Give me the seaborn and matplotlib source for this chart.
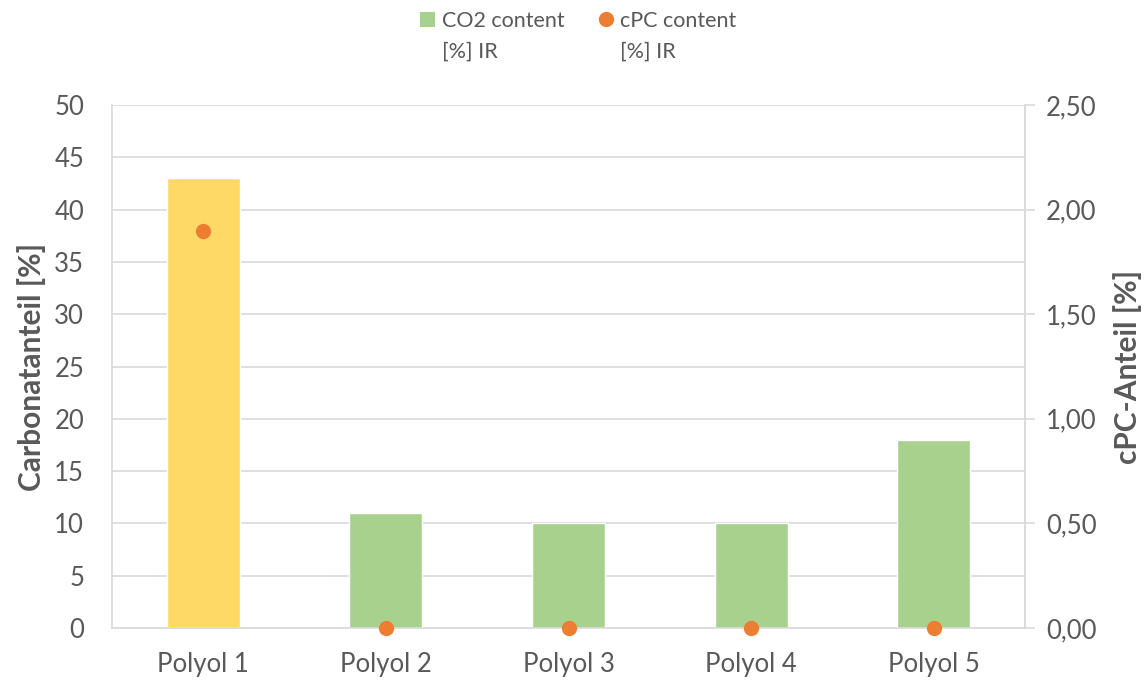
import matplotlib
matplotlib.use("Agg")
import matplotlib.pyplot as plt
from matplotlib.lines import Line2D
from matplotlib.patches import Patch
import seaborn as sns
import pandas as pd

# Data
categories = ["Polyol 1", "Polyol 2", "Polyol 3", "Polyol 4", "Polyol 5"]
co2_content = [43, 11, 10, 10, 18]          # Carbonatanteil [%]
cpc_content = [1.90, 0.0, 0.0, 0.0, 0.0]    # cPC-Anteil [%]
bar_colors = ["#FFD966", "#A9D18E", "#A9D18E", "#A9D18E", "#A9D18E"]
left_ticks = [0, 5, 10, 15, 20, 25, 30, 35, 40, 45, 50]
right_ticks = [0.0, 0.5, 1.0, 1.5, 2.0, 2.5]
legend_first = ["CO2 content", "cPC content"]
legend_second = ["[%] IR", "[%] IR"]

sns.set_theme(style="white")
plt.rcParams["font.family"] = ["Lato", "DejaVu Sans"]

text_col = "#595959"
grid_col = "#D9D9D9"
dot_col = "#ED7D31"

df = pd.DataFrame({"cat": categories, "co2": co2_content, "cpc": cpc_content})

fig = plt.figure(figsize=(11.45, 6.8), dpi=100)
ax = fig.add_axes([112 / 1145, 1 - 628 / 680, (1025 - 112) / 1145, (628 - 105) / 680])

sns.barplot(data=df, x="cat", y="co2", hue="cat", palette=bar_colors,
            dodge=False, legend=False, width=0.4, saturation=1, ax=ax, zorder=2)
ax.set_ylim(0, 50)
ax.set_yticks(left_ticks)
ax.yaxis.grid(True, color=grid_col, linewidth=1.2, zorder=0)
ax.set_axisbelow(True)
ax.set_xlabel("")
ax.set_ylabel("Carbonatanteil [%]", fontsize=21.5, fontweight="bold", color=text_col, labelpad=6)
ax.tick_params(axis="y", length=0, labelsize=18.5, labelcolor=text_col, pad=20)
ax.tick_params(axis="x", length=0, labelsize=18.5, labelcolor=text_col, pad=17)
ax.spines["top"].set_visible(False)
for s in ["left", "bottom", "right"]:
    ax.spines[s].set_color(grid_col)
    ax.spines[s].set_linewidth(1.2)

ax2 = ax.twinx()
sns.stripplot(data=df, x="cat", y="cpc", jitter=False, color=dot_col, size=11,
              linewidth=0, ax=ax2, zorder=5, clip_on=False)
ax2.set_ylim(0, 2.5)
ax2.set_yticks(right_ticks)
ax2.set_yticklabels([f"{v:.2f}".replace(".", ",") for v in right_ticks])
ax2.set_ylabel("cPC-Anteil [%]", fontsize=21.5, fontweight="bold", color=text_col, labelpad=12)
ax2.tick_params(axis="y", length=7, width=1.2, color=grid_col, labelsize=18.5,
                labelcolor=text_col, pad=8)
ax2.set_xlim(-0.5, 4.5)
ax.set_xlim(-0.5, 4.5)
for s in ["top", "left", "bottom"]:
    ax2.spines[s].set_visible(False)
ax2.spines["right"].set_color(grid_col)
ax2.spines["right"].set_linewidth(1.2)
ax2.grid(False)

handles = [
    Patch(facecolor="#A9D18E", edgecolor="none"),
    Line2D([], [], marker="o", linestyle="none", markersize=11,
           markerfacecolor=dot_col, markeredgewidth=0),
]
leg = fig.legend(handles, legend_first, loc="upper center", bbox_to_anchor=(0.505, 1.0),
                 ncol=2, frameon=False, fontsize=15.5, labelcolor=text_col,
                 handlelength=0.7, handleheight=0.7, handletextpad=0.3,
                 columnspacing=1.6, borderaxespad=0.1)

# second line of each legend entry, aligned under its first line
fig.canvas.draw()
renderer = fig.canvas.get_renderer()
inv = fig.transFigure.inverted()
for t, extra in zip(leg.get_texts(), legend_second):
    bb = t.get_window_extent(renderer)
    x0, y0 = inv.transform((bb.x0, bb.y0 - 31))
    fig.text(x0, y0, extra, fontsize=15.5, color=text_col, ha="left", va="bottom")

fig.savefig("out.png", dpi=100)
